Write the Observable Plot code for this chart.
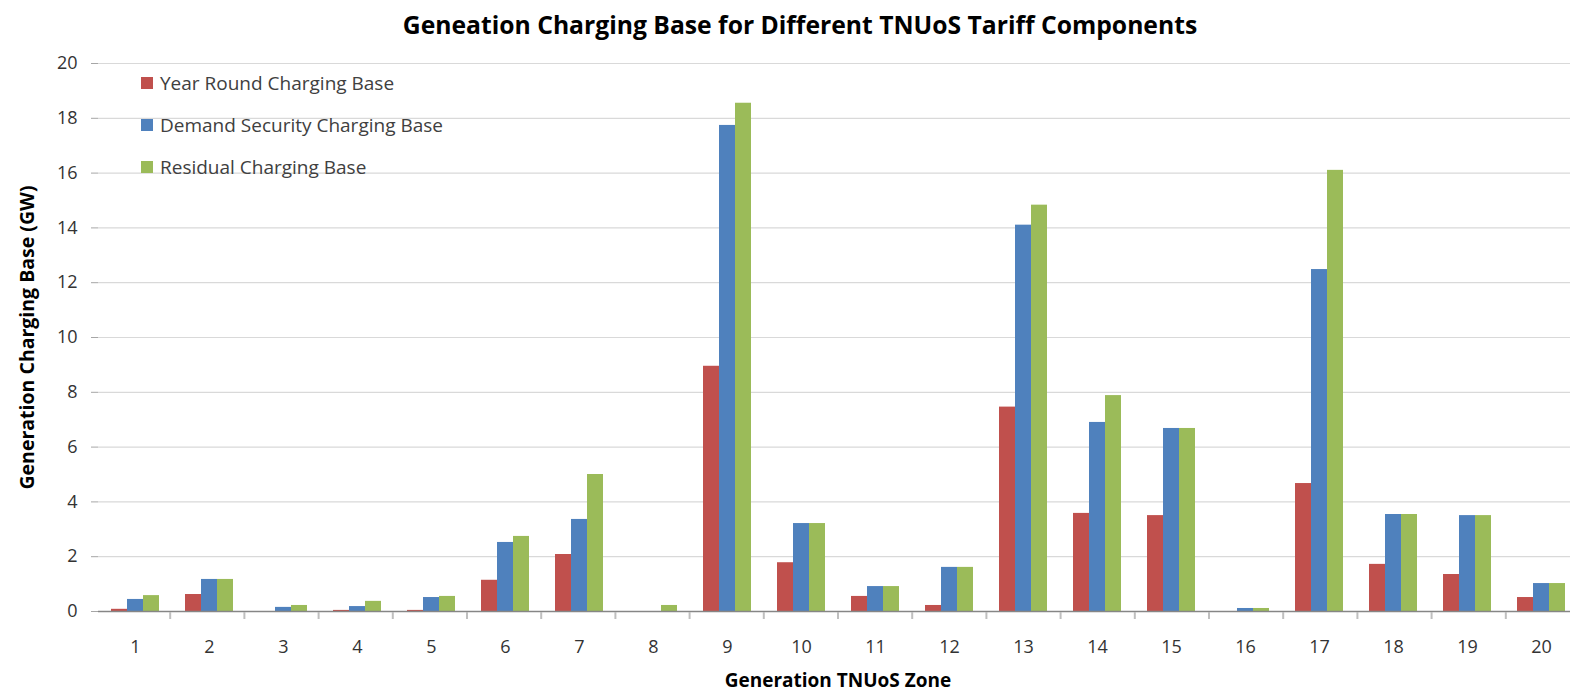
<!DOCTYPE html>
<html>
<head>
<meta charset="utf-8">
<script src="https://cdn.jsdelivr.net/npm/d3@7"></script>
<script src="https://cdn.jsdelivr.net/npm/@observablehq/plot@0.6"></script>
<style>
  html, body { margin: 0; padding: 0; background: #fff; overflow: hidden; }
  body { width: 1570px; height: 696px; position: relative; font-family: "Open Sans", Lato, sans-serif; }
  #title { height: 50px; line-height: 50px; text-align: center; padding-left: 30px; font-weight: bold; font-size: 24.7px; color: #000; }
  #chart { width: 1580px; }
  #chart svg { display: block; max-width: none !important; }
  #xlabel { position: absolute; left: 96px; width: 1484px; top: 666px; height: 28px; line-height: 28px; text-align: center; font-weight: bold; font-size: 19px; color: #000; }
  #legend { position: absolute; left: 141px; top: 70px; font-size: 19px; color: #404040; }
  #legend .row { display: flex; align-items: center; height: 26px; margin-bottom: 16px; }
  #legend .sw { width: 12px; height: 12px; margin-right: 7px; }
</style>
</head>
<body>
<div id="title">Geneation Charging Base for Different TNUoS Tariff Components</div>
<div id="chart"></div>
<div id="xlabel">Generation TNUoS Zone</div>
<div id="legend"></div>
<script>
const zones = d3.range(1, 21);
const seriesNames = ["Year Round Charging Base", "Demand Security Charging Base", "Residual Charging Base"];
const seriesColors = ["#C0504D", "#4F81BD", "#9BBB59"];
const yearRound      = [0.08, 0.62, 0, 0.04, 0.04, 1.14, 2.08, 0, 8.95, 1.78, 0.55, 0.22, 7.46, 3.58, 3.5, 0, 4.67, 1.72, 1.35, 0.51];
const demandSecurity = [0.44, 1.17, 0.15, 0.18, 0.51, 2.52, 3.36, 0, 17.74, 3.21, 0.91, 1.61, 14.1, 6.9, 6.68, 0.11, 12.48, 3.54, 3.5, 1.02];
const residual       = [0.58, 1.17, 0.22, 0.37, 0.55, 2.74, 5.0, 0.22, 18.55, 3.21, 0.91, 1.61, 14.83, 7.88, 6.68, 0.11, 16.1, 3.54, 3.5, 1.02];
const yTicks = [0, 2, 4, 6, 8, 10, 12, 14, 16, 18, 20];

const seriesValues = [yearRound, demandSecurity, residual];
const rows = [];
zones.forEach((z, i) => seriesNames.forEach((s, j) => rows.push({zone: z, series: s, value: seriesValues[j][i]})));

const chart = Plot.plot({
  width: 1580,
  height: 616,
  marginTop: 13,
  marginBottom: 55,
  marginLeft: 96,
  marginRight: 0,
  style: {fontFamily: "'Open Sans', Lato, sans-serif", fontSize: "18px", color: "#404040", background: "#fff", overflow: "visible", maxWidth: "none"},
  fx: {domain: zones, padding: 0, axis: null},
  x: {domain: seriesNames, paddingInner: 0, paddingOuter: 0.76, axis: null},
  y: {domain: [0, 20]},
  color: {domain: seriesNames, range: seriesColors},
  marks: [
    Plot.gridY(yTicks, {stroke: "#D9D9D9", strokeOpacity: 1, strokeWidth: 1.2}),
    Plot.barY(rows, {fx: "zone", x: "series", y: "value", fill: "series", inset: 0}),
    Plot.ruleY([0], {stroke: "#868686", strokeWidth: 1.5}),
    Plot.text(zones, {fx: d => d, y: () => 0, text: d => String(d), dy: 36, fill: "#333", fontSize: 18}),
    Plot.axisY(yTicks, {tickSize: 7, tickPadding: 14, stroke: "#A6A6A6", fill: "#333", fontSize: 18,
      label: "Generation Charging Base (GW)", labelAnchor: "center", labelArrow: "none", labelOffset: 78})
  ]
});

document.getElementById("chart").appendChild(chart);

const svg = d3.select(chart);
svg.selectAll("g[aria-label='y-axis label'] text")
  .attr("font-weight", "bold").attr("fill", "#000").attr("font-size", 19.5);

// category boundary ticks below the axis line, placed from the fx and y scales
const fx = chart.scale("fx");
const y = chart.scale("y");
const y0 = y.apply(0);
const step = (fx.range[1] - fx.range[0]) / zones.length;
const edges = zones.map((z, i) => fx.range[0] + i * step).slice(1);
svg.append("g").selectAll("line").data(edges).join("line")
  .attr("x1", d => d).attr("x2", d => d)
  .attr("y1", y0 + 1).attr("y2", y0 + 8)
  .attr("stroke", "#BFBFBF").attr("stroke-width", 2);

// legend
const legend = d3.select("#legend");
seriesNames.forEach((s, i) => {
  const row = legend.append("div").attr("class", "row");
  row.append("div").attr("class", "sw").style("background", seriesColors[i]);
  row.append("span").text(s);
});
</script>
</body>
</html>
